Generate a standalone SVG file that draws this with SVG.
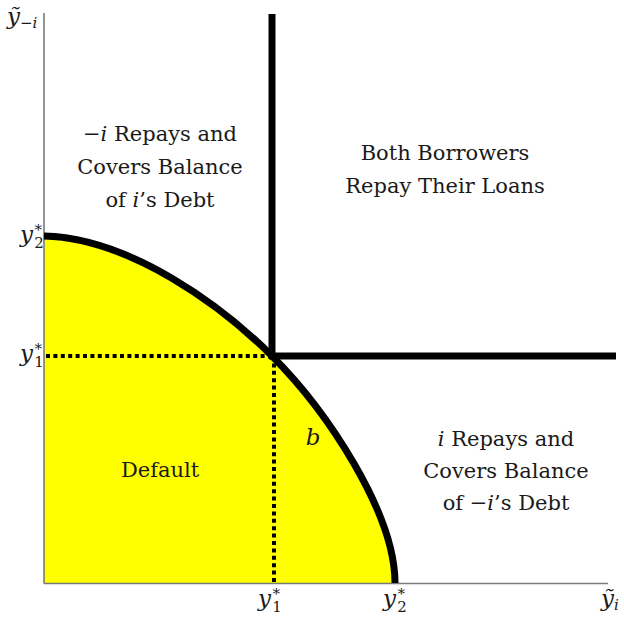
<svg xmlns="http://www.w3.org/2000/svg" width="624" height="620" viewBox="0 0 624 620">
<style>
.t{font-family:"DejaVu Serif","Liberation Serif",serif;font-size:21px;fill:#1a1a1a;text-anchor:middle}
.m{font-family:"DejaVu Serif","Liberation Serif",serif;font-style:italic;fill:#1a1a1a}
.it{font-style:italic}
.ax{stroke:#7a7a7a;stroke-width:1.6;fill:none}
.thick{stroke:#000;stroke-width:7;fill:none}
.dot{stroke:#000;stroke-width:4;stroke-dasharray:4 3.4;fill:none}
</style>
<rect width="624" height="620" fill="#fff"/>
<g id="default-region">
<path d="M44,236 C130,238 222,306 272,356 C327,411 395,513 395,583 L44,583 Z" fill="#ffff00"/>
</g>
<g id="axes">
<line class="ax" x1="44" y1="13" x2="44" y2="583.5"/>
<line class="ax" x1="44" y1="583.5" x2="608" y2="583.5"/>
</g>
<g id="connectors">
<line class="dot" x1="46" y1="356" x2="272" y2="356"/>
<line class="dot" x1="274" y1="356" x2="274" y2="583"/>
<line class="thick" x1="272" y1="14" x2="272" y2="359"/>
<line class="thick" x1="269" y1="356" x2="616" y2="356"/>
<path class="thick" d="M44,236 C130,238 222,306 272,356 C327,411 395,513 395,583" stroke-width="8"/>
</g>
<g id="axis-labels">
<text class="m" x="7" y="24" font-size="23">ỹ<tspan font-size="15" dy="4" font-style="normal">−</tspan><tspan font-size="15">i</tspan></text>
<text class="m" x="20" y="242" font-size="23">y<tspan font-size="15" font-style="normal" dy="-10">∗</tspan><tspan font-size="15" font-style="normal" dx="-9" dy="16">2</tspan></text>
<text class="m" x="20" y="361" font-size="23">y<tspan font-size="15" font-style="normal" dy="-10">∗</tspan><tspan font-size="15" font-style="normal" dx="-9" dy="16">1</tspan></text>
<text class="m" x="258" y="606" font-size="23">y<tspan font-size="15" font-style="normal" dy="-10">∗</tspan><tspan font-size="15" font-style="normal" dx="-9" dy="16">1</tspan></text>
<text class="m" x="383" y="606" font-size="23">y<tspan font-size="15" font-style="normal" dy="-10">∗</tspan><tspan font-size="15" font-style="normal" dx="-9" dy="16">2</tspan></text>
<text class="m" x="601" y="606" font-size="23">ỹ<tspan font-size="15" dy="4">i</tspan></text>
</g>
<g id="region-minus-i">
<text class="t" x="160" y="141"><tspan>−</tspan><tspan class="it">i</tspan> Repays and</text>
<text class="t" x="160" y="174">Covers Balance</text>
<text class="t" x="160" y="207">of <tspan class="it">i</tspan>’s Debt</text>
</g>
<g id="region-both">
<text class="t" x="445" y="160">Both Borrowers</text>
<text class="t" x="445" y="193">Repay Their Loans</text>
</g>
<g id="region-i">
<text class="t" x="506" y="446"><tspan class="it">i</tspan> Repays and</text>
<text class="t" x="506" y="478">Covers Balance</text>
<text class="t" x="506" y="510">of −<tspan class="it">i</tspan>’s Debt</text>
</g>
<g id="region-default">
<text class="t" x="160" y="477">Default</text>
</g>
<g id="label-b">
<text class="m" x="313" y="445" font-size="23" text-anchor="middle">b</text>
</g>
</svg>
